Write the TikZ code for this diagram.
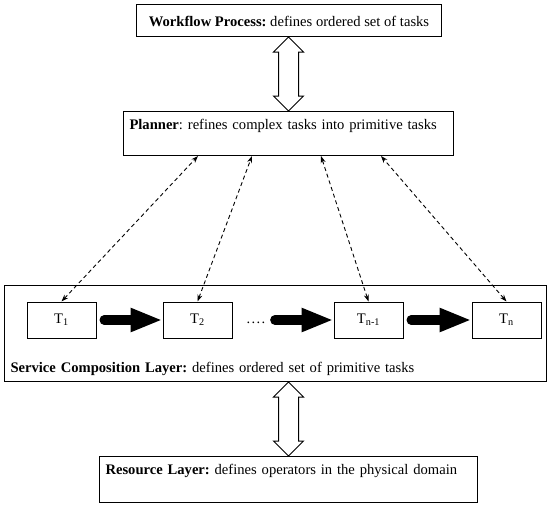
\documentclass[tikz,border=0pt]{standalone}
\usepackage{fontspec}
\setmainfont{Liberation Serif}
\frenchspacing
\usetikzlibrary{arrows.meta,positioning,calc}
\newcommand{\hollowarrow}[2]{%
  \draw[fill=white,line width=1pt] let \p1=(#1.south), \p2=(#2.north) in
    (\x2,\y1) -- (\x2+15pt,\y1-15pt) -- (\x2+10pt,\y1-15pt)
    -- (\x2+10pt,\y2+15pt) -- (\x2+15pt,\y2+15pt) -- (\x2,\y2)
    -- (\x2-15pt,\y2+15pt) -- (\x2-10pt,\y2+15pt)
    -- (\x2-10pt,\y1-15pt) -- (\x2-15pt,\y1-15pt) -- cycle;}

\begin{document}
\begin{tikzpicture}[x=1pt,y=-1pt,font=\fontsize{14.6}{17.5}\selectfont,
                    >={Stealth[length=7pt,width=5pt]}]
  \tikzstyle{layer}=[draw,line width=1pt,inner xsep=6pt,inner ysep=0pt,
                     anchor=north west,align=left]
  \tikzstyle{task}=[draw,line width=1pt,minimum width=69pt,
                    minimum height=36pt,inner sep=0pt]
  \tikzstyle{flow}=[line width=9.5pt,line cap=round,shorten <=7.75pt,
                    -{Triangle[length=32pt,width=22pt]}]
  \tikzstyle{link}=[<->,line width=0.9pt,dash pattern=on 4pt off 3pt]

  \useasboundingbox (0,0) rectangle (550,506);

  \node[layer,minimum width=305pt,align=center,text height=22pt,text depth=10pt]
        (wf)   at (136,4)   {\textbf{Workflow Process:} defines ordered set of tasks};
  \node[layer,text width=318pt,text height=18pt,text depth=26pt]
        (plan) at (123,111) {\textbf{Planner}: refines complex tasks into primitive tasks};
  \node[layer,text width=530pt,text height=87pt,text depth=9pt]
        (svc)  at (4,285)   {\textbf{Service Composition Layer:} defines ordered set of primitive tasks};
  \node[layer,text width=366pt,text height=17.5pt,text depth=28.5pt]
        (res)  at (99,456)  {\textbf{Resource Layer:} defines operators in the physical domain};

  \node[task]  (T1)   at (61.5,320)          {T\textsubscript{1}};
  \node[task]  (T2)   [right=66pt of T1]     {T\textsubscript{2}};
  \node[inner sep=0pt] (dots) [right=14pt of T2]
        {\vphantom{T\textsubscript{2}}.\kern1.3pt.\kern1.3pt.\kern1.3pt.};
  \node[task]  (Tm)   [right=101pt of T2]    {T\textsubscript{n-1}};
  \node[task]  (Tn)   [right=68pt of Tm]     {T\textsubscript{n}};

  \coordinate (p1) at ([xshift=75pt]plan.south west);
  \coordinate (p2) at ([xshift=129pt]plan.south west);
  \coordinate (p3) at ([xshift=198pt]plan.south west);
  \coordinate (p4) at ([xshift=258pt]plan.south west);

  \hollowarrow{wf}{plan}
  \hollowarrow{svc}{res}

  \path (T1)   edge[flow]                (T2)
        (dots) edge[flow,shorten <=9.5pt] (Tm)
        (Tm)   edge[flow]                (Tn);

  \path (T1.north) edge[link] (p1)
        (T2.north) edge[link] (p2)
        (Tm.north) edge[link] (p3)
        (Tn.north) edge[link] (p4);
\end{tikzpicture}
\end{document}
